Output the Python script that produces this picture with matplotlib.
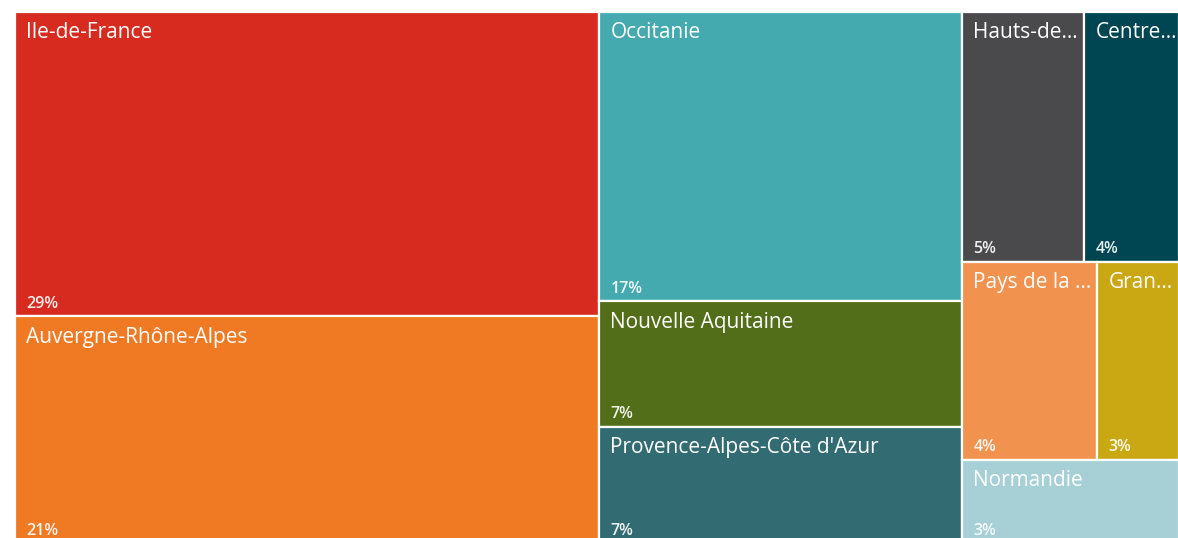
import matplotlib

matplotlib.use("Agg")
import matplotlib.pyplot as plt
from matplotlib.patches import Rectangle

# region shares (%)
regions = ["Ile-de-France", "Auvergne-Rhône-Alpes", "Occitanie", "Nouvelle Aquitaine",
           "Provence-Alpes-Côte d'Azur", "Hauts-de-France", "Centre-Val de Loire",
           "Pays de la Loire", "Grand Est", "Normandie"]
shares = [28.6, 21.3, 16.9, 7.3, 6.8, 4.9, 3.8, 4.3, 2.6, 2.9]
colors = ["#D82B20", "#F07A24", "#45AAB0", "#536E18", "#336B73",
          "#4A4A4C", "#004652", "#F2924F", "#C9A814", "#A6D0D6"]

# strip structure of the treemap: columns -> rows -> cells
layout = [
    [["Ile-de-France"], ["Auvergne-Rhône-Alpes"]],
    [["Occitanie"], ["Nouvelle Aquitaine"], ["Provence-Alpes-Côte d'Azur"]],
    [["Hauts-de-France", "Centre-Val de Loire"], ["Pays de la Loire", "Grand Est"], ["Normandie"]],
]


def treemap(layout, value, x0=0.0, y0=0.0, w=1.0, h=1.0):
    total = sum(value[n] for col in layout for row in col for n in row)
    rects = {}
    x = x0
    for col in layout:
        col_sum = sum(value[n] for row in col for n in row)
        cw = w * col_sum / total
        y = y0 + h
        for row in col:
            row_sum = sum(value[n] for n in row)
            rh = h * row_sum / col_sum
            y -= rh
            xx = x
            for n in row:
                nw = cw * value[n] / row_sum
                rects[n] = (xx, y, nw, rh)
                xx += nw
        x += cw
    return rects


def fit(txt, renderer, max_px):
    # Power BI style truncation with trailing "..."
    s = txt.get_text()
    if txt.get_window_extent(renderer).width <= max_px:
        return
    while len(s) > 1:
        s = s[:-1]
        txt.set_text(s + "...")
        if txt.get_window_extent(renderer).width <= max_px:
            return


plt.rcParams["font.family"] = ["Open Sans", "DejaVu Sans"]
W, H, DPI = 1178, 538, 100
fig = plt.figure(figsize=(W / DPI, H / DPI), dpi=DPI)
# treemap spans x 15..1179, y 12..543 px (slightly cropped at right and bottom)
ax = fig.add_axes([15 / W, -5 / H, 1164 / W, 531 / H])
ax.set_xlim(0, 1)
ax.set_ylim(0, 1)
ax.axis("off")

value = dict(zip(regions, shares))
color = dict(zip(regions, colors))
total = sum(shares)
rects = treemap(layout, value)

fig.canvas.draw()
renderer = fig.canvas.get_renderer()
ax_px = ax.get_window_extent(renderer).width

for name in regions:
    x, y, w, h = rects[name]
    ax.add_patch(Rectangle((x, y), w, h, facecolor=color[name], edgecolor="white", lw=1.6))
    lab = ax.annotate(name, xy=(x, y + h), xytext=(8, -7.5), textcoords="offset points",
                      ha="left", va="top", color="white", fontsize=15)
    fit(lab, renderer, w * ax_px - 11)
    ax.annotate(f"{100 * value[name] / total:.0f}%", xy=(x, y), xytext=(8, 6),
                textcoords="offset points", ha="left", va="baseline",
                color="white", fontsize=11.5, fontweight="semibold", alpha=0.92)

fig.savefig("out.png", dpi=DPI)
